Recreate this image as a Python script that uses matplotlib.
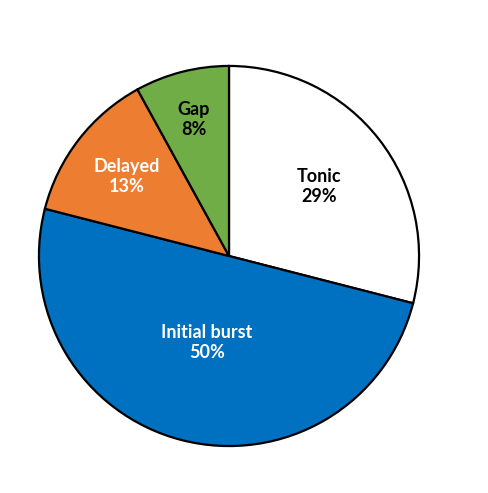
import numpy as np
import matplotlib.pyplot as plt

labels = ['Tonic', 'Initial burst', 'Delayed', 'Gap']
shares = [29, 50, 13, 8]
colors = ['#FFFFFF', '#0070C0', '#ED7D31', '#70AD47']
text_colors = ['black', 'white', 'white', 'black']
label_dist = [0.60, 0.47, 0.68, 0.74]

fig = plt.figure(figsize=(4.89, 4.93), dpi=100)
cx, cy, r = 229, 256, 191
ax = fig.add_axes([(cx - r) / 489, (493 - cy - r) / 493, 2 * r / 489, 2 * r / 493])

wedges, _ = ax.pie(shares, colors=colors, startangle=90, counterclock=False,
                   wedgeprops=dict(edgecolor='black', linewidth=1.6))

for w, lab, s, tc, d in zip(wedges, labels, shares, text_colors, label_dist):
    ang = np.deg2rad((w.theta1 + w.theta2) / 2)
    ax.text(d * np.cos(ang), d * np.sin(ang), f'{lab}\n{s}%', ha='center', va='center',
            color=tc, fontsize=13, fontweight='bold', family='Lato', linespacing=1.2)

ax.set_xlim(-1.005, 1.005)
ax.set_ylim(-1.005, 1.005)
ax.axis('off')

fig.savefig('out.png', dpi=100)
